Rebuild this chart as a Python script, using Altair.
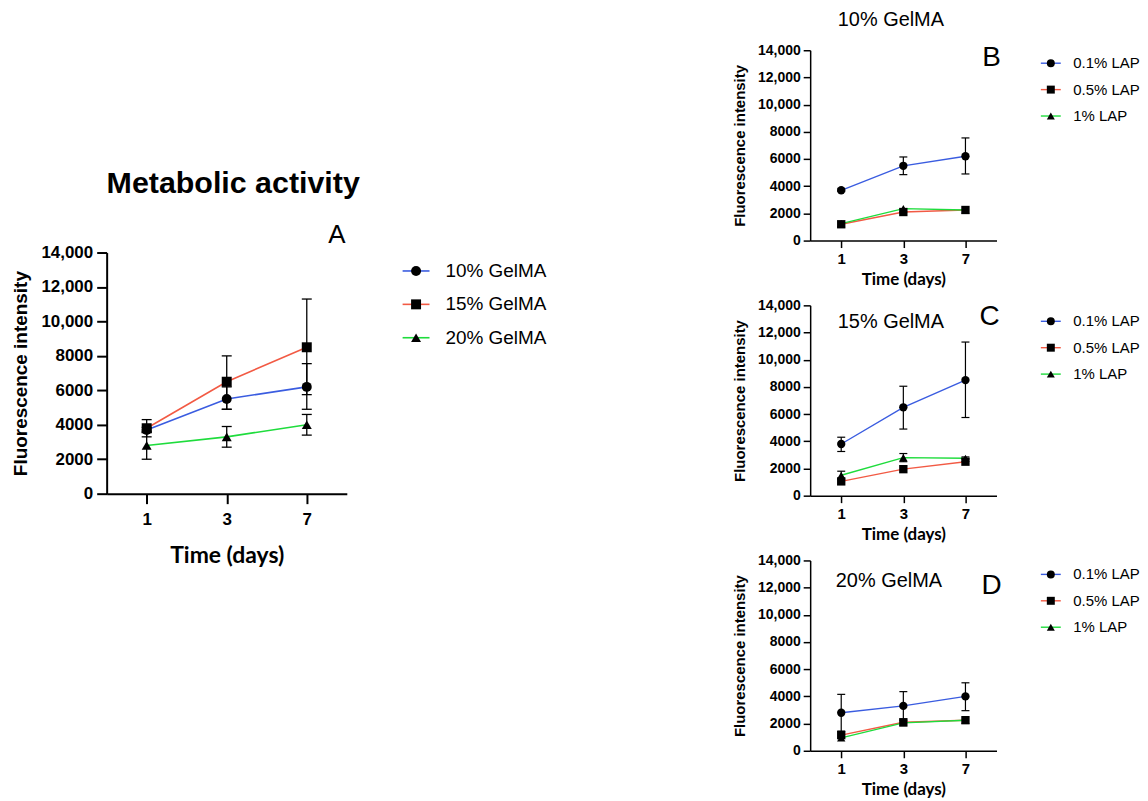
import altair as alt
import pandas as pd

days = [1, 3, 7]

# ---- Panel A: Metabolic activity ----
a_series = ["10% GelMA", "15% GelMA", "20% GelMA"]
a_mean = [[3700, 5500, 6200], [3800, 6500, 8500], [2800, 3300, 4000]]
a_lo = [[3550, 4900, 4900], [3300, 4900, 5750], [2000, 2700, 3400]]
a_hi = [[3850, 6200, 7550], [4300, 8000, 11300], [3600, 3900, 4600]]

# ---- Panels B-D: LAP concentration ----
lap_series = ["0.1% LAP", "0.5% LAP", "1% LAP"]

b_mean = [[3700, 5500, 6200], [1200, 2100, 2250], [1250, 2350, 2250]]
b_lo = [[3600, 4850, 4900], [None, None, None], [None, None, None]]
b_hi = [[3800, 6150, 7550], [None, None, None], [None, None, None]]

c_mean = [[3800, 6500, 8500], [1050, 1950, 2500], [1500, 2800, 2750]]
c_lo = [[3250, 4900, 5750], [None, None, None], [1200, 2500, 2700]]
c_hi = [[4300, 8050, 11300], [None, None, None], [1800, 3100, 2850]]

d_mean = [[2800, 3300, 4000], [1150, 2100, 2250], [950, 2050, 2250]]
d_lo = [[1450, 2250, 2950], [None, None, None], [None, None, None]]
d_hi = [[4150, 4350, 5000], [None, None, None], [None, None, None]]

y_ticks = [0, 2000, 4000, 6000, 8000, 10000, 12000, 14000]
colors = ["#3a5ce0", "#f25a44", "#1edc3c"]
shapes = ["circle", "square", "triangle-up"]

FONT = "Liberation Sans"
XFONT = "Lato"


def make_df(series, means, los, his):
    rows = []
    for s, m, l, h in zip(series, means, los, his):
        for d, mv, lv, hv in zip(days, m, l, h):
            rows.append(dict(day=d, series=s, mean=mv, lo=lv, hi=hv))
    return pd.DataFrame(rows)


def panel(series, means, los, his, w, h, st, texts, leg, anchor=None):
    df = make_df(series, means, los, his)
    # drawing order of markers: circle, triangle, square
    order = [series[0], series[2], series[1]]
    dfp = pd.concat([df[df.series == s] for s in order])
    dfe = df.dropna(subset=["lo", "hi"])

    yscale = alt.Scale(domain=[0, 14000], nice=False)
    xscale = alt.Scale(type="point", padding=0.5)
    yaxis = alt.Axis(
        values=y_ticks,
        labelExpr="datum.value >= 10000 ? format(datum.value, ',') : format(datum.value, 'd')",
        title="Fluorescence intensity",
        grid=False,
        domainWidth=st["aw"], tickWidth=st["aw"], tickSize=st["yts"],
        labelFont=FONT, labelFontSize=st["ylfs"], labelFontWeight="bold",
        labelPadding=st["ylp"], titleFont=FONT, titleFontSize=st["ytfs"],
        titleFontWeight="bold", titlePadding=st["ytp"],
        domainColor="black", tickColor="black", labelColor="black", titleColor="black",
    )
    xaxis = alt.Axis(
        title="Time (days)", labelAngle=0, grid=False,
        domainWidth=st["aw"], tickWidth=st["aw"], tickSize=st["xts"],
        labelFont=FONT, labelFontSize=st["xlfs"], labelFontWeight="bold",
        labelPadding=st["xlp"], titleFont=XFONT, titleFontSize=st["xtfs"],
        titleFontWeight="bold", titlePadding=st["xtp"],
        domainColor="black", tickColor="black", labelColor="black", titleColor="black",
    )
    X = alt.X("day:O", scale=xscale, axis=xaxis)

    color_leg = alt.Legend(
        title=None, orient="none", legendX=leg["x"], legendY=leg["y"], padding=0,
        symbolType=leg["path"], symbolSize=leg["ss"], symbolStrokeWidth=st["lw"],
        labelFont=FONT, labelFontSize=leg["fs"], labelOffset=leg["lo"],
        rowPadding=leg["rp"], labelColor="black",
    )
    shape_leg = alt.Legend(
        title=None, orient="none", legendX=leg["x"], legendY=leg["y"], padding=0,
        symbolSize=leg["ss"], symbolFillColor="black", symbolStrokeWidth=0,
        symbolOpacity=1, labelFont=FONT, labelFontSize=leg["fs"], labelOffset=leg["lo"],
        rowPadding=leg["rp"], labelColor="transparent",
    )

    lines = alt.Chart(df).mark_line(strokeWidth=st["lw"]).encode(
        x=X,
        y=alt.Y("mean:Q", scale=yscale, axis=yaxis),
        color=alt.Color("series:N", scale=alt.Scale(domain=series, range=colors), legend=color_leg),
    )
    rules = alt.Chart(dfe).mark_rule(color="black", strokeWidth=st["ew"]).encode(
        x=X, y=alt.Y("lo:Q", scale=yscale, axis=yaxis), y2="hi:Q"
    )
    cap_lo = alt.Chart(dfe).mark_tick(color="black", size=st["cap"], thickness=st["ew"], opacity=1).encode(
        x=X, y=alt.Y("lo:Q", scale=yscale, axis=yaxis)
    )
    cap_hi = alt.Chart(dfe).mark_tick(color="black", size=st["cap"], thickness=st["ew"], opacity=1).encode(
        x=X, y=alt.Y("hi:Q", scale=yscale, axis=yaxis)
    )
    points = alt.Chart(dfp).mark_point(filled=True, color="black", opacity=1, size=st["ms"]).encode(
        x=X,
        y=alt.Y("mean:Q", scale=yscale, axis=yaxis),
        shape=alt.Shape("series:N", scale=alt.Scale(range=shapes), legend=shape_leg),
    )
    layers = [lines, rules, cap_lo, cap_hi, points]
    for (label, tx, ty, fs, fw) in texts:
        layers.append(
            alt.Chart(pd.DataFrame({"t": [label]}))
            .mark_text(font=FONT, fontSize=fs, fontWeight=fw, align="center", baseline="middle", color="black")
            .encode(text="t:N", x=alt.value(tx), y=alt.value(ty))
        )
    if anchor is not None:
        layers.append(
            alt.Chart(pd.DataFrame({"a": [0]}))
            .mark_point(size=4, opacity=0, filled=True, strokeWidth=0)
            .encode(x=alt.value(anchor[0]), y=alt.value(anchor[1]))
        )
    return alt.layer(*layers).properties(width=w, height=h)


style_a = dict(aw=2, yts=10, ylfs=17, ylp=4, ytfs=19, ytp=10, xts=10, xlfs=17, xlp=8,
               xtfs=23, xtp=17, lw=1.6, ew=1.3, cap=10, ms=100)
style_s = dict(aw=1.5, yts=7, ylfs=14, ylp=3, ytfs=15, ytp=10, xts=7, xlfs=15, xlp=4,
               xtfs=17, xtp=5, lw=1.4, ew=1.2, cap=8, ms=70)

leg_a = dict(x=301, y=9, path="M-2.7,0H2.7", ss=100, fs=19, lo=20, rp=13.5)


def leg_s(y):
    return dict(x=234, y=y, path="M-2.5,0H2.5", ss=64, fs=15, lo=15, rp=10.5)


chart_a = panel(a_series, a_mean, a_lo, a_hi, 241, 242, style_a,
                [("Metabolic activity", 127, -69, 30.5, "bold"), ("A", 231, -18, 26, "normal")],
                leg_a, anchor=(-98, -243))
chart_b = panel(lap_series, b_mean, b_lo, b_hi, 187, 191, style_s,
                [("10% GelMA", 81, -30, 20, "normal"), ("B", 182, 8, 28, "normal")], leg_s(5.5))
chart_c = panel(lap_series, c_mean, c_lo, c_hi, 187, 191, style_s,
                [("15% GelMA", 81, 17, 20, "normal"), ("C", 180, 12, 28, "normal")], leg_s(8.5))
chart_d = panel(lap_series, d_mean, d_lo, d_hi, 187, 191, style_s,
                [("20% GelMA", 79, 21, 20, "normal"), ("D", 182, 26, 28, "normal")], leg_s(6.5))

spacer = (
    alt.Chart(pd.DataFrame({"v": [0]}))
    .mark_point(opacity=0)
    .encode(x=alt.value(0), y=alt.value(0))
    .properties(width=241, height=193)
)

left = alt.VConcatChart(vconcat=[spacer, chart_a], spacing=10, bounds="flush").resolve_scale(
    color="independent", shape="independent")
right = alt.VConcatChart(vconcat=[chart_b, chart_c, chart_d], spacing=65, bounds="flush").resolve_scale(
    color="independent", shape="independent")

chart = (
    alt.HConcatChart(hconcat=[left, right], spacing=706, bounds="flush")
    .resolve_scale(color="independent", shape="independent")
    .properties(padding={"left": 0, "top": 0, "right": 0, "bottom": 0})
    .configure(font=FONT)
    .configure_view(stroke=None)
)

chart.save("out.html", embed_options={"renderer": "svg", "actions": False})
